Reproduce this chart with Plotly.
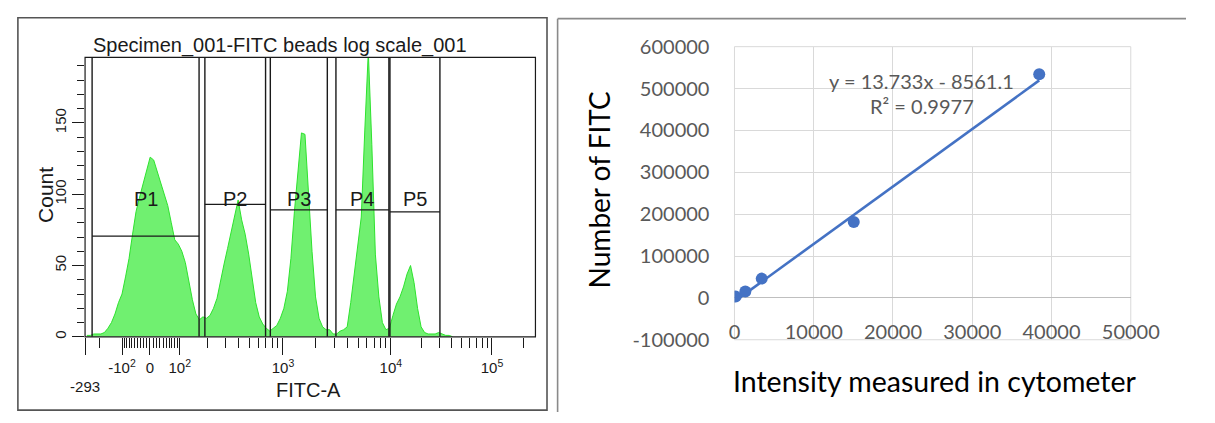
import numpy as np
import plotly.graph_objects as go

W, H = 1215, 423

# ---------------- Left panel: FITC-A histogram (display channel scale 0-256) ----------------
hist_first_channel = 1
hist_channel_step = 2
hist_counts = [
    1, 1, 2, 2, 2, 3, 6, 10, 16, 24, 30, 42, 55, 72, 88, 98, 108, 118, 126, 124,
    116, 108, 100, 92, 80, 68, 65, 60, 52, 38, 26, 16, 12, 14, 13, 15, 20, 27, 40, 51,
    62, 74, 85, 96, 82, 72, 58, 40, 24, 14, 9, 6, 4, 6, 8, 13, 20, 32, 55, 88,
    118, 143, 142, 100, 60, 28, 13, 7, 5, 5, 2, 2, 4, 5, 7, 24, 45, 64, 84, 145,
    200, 135, 58, 28, 10, 5, 6, 15, 23, 28, 35, 44, 50, 38, 20, 7, 3, 2, 2, 2,
    3, 2, 1, 1, 0,
]

gate_names = ["P1", "P2", "P3", "P4", "P5"]
gate_start = [4.0, 68.1, 105.3, 142.6, 173.3]
gate_end = [64.8, 102.6, 137.7, 172.7, 201.7]
gate_height = [70.6, 92.9, 89.0, 89.0, 87.6]
gate_label_count = 96.5

fitc_tick_values = [-293, -100, 0, 100, 1000, 10000, 100000, 262143]
fitc_tick_channels = [0, 21.0, 36.9, 53.8, 112.5, 173.8, 231.3, 256]
fitc_tick_labels = ["<br>-293", "-10<sup>2</sup>", "0", "10<sup>2</sup>",
                    "10<sup>3</sup>", "10<sup>4</sup>", "10<sup>5</sup>", ""]
count_ticks = [0, 50, 100, 150]
count_minor_ticks = [10, 20, 30, 40, 60, 70, 80, 90, 110, 120, 130, 140, 160, 170, 180, 190]
count_max = 196

# ---------------- Right panel: calibration scatter ----------------
intensity = [150, 1370, 3440, 15050, 38450]
n_fitc = [3000, 15100, 46000, 181500, 534000]
fit_slope = 13.733
fit_intercept = -8561.1
r_squared = 0.9977
x2_ticks = [0, 10000, 20000, 30000, 40000, 50000]
y2_ticks = [-100000, 0, 100000, 200000, 300000, 400000, 500000, 600000]


def to_channel(v):
    """Biexponential-like display transform anchored on the labelled ticks."""
    g = np.arcsinh(np.asarray(v, dtype=float) / 100.0)
    ga = np.arcsinh(np.asarray(fitc_tick_values, dtype=float) / 100.0)
    return np.interp(g, ga, fitc_tick_channels)


minor_fitc = [-200] + list(range(-90, 0, 10)) + list(range(10, 100, 10))
for dec in (100, 1000, 10000):
    minor_fitc += [k * dec for k in range(2, 10)]
minor_fitc += [200000]
minor_channels = [float(c) for c in to_channel(minor_fitc)]

hist_channels = [hist_first_channel + i * hist_channel_step for i in range(len(hist_counts))]

fig = go.Figure()

fig.add_trace(go.Scatter(
    x=hist_channels, y=hist_counts, mode="lines", fill="tozeroy",
    line=dict(color="#2ee22e", width=1), fillcolor="#70f070",
    xaxis="x", yaxis="y", hoverinfo="skip", showlegend=False))

# right panel
x_line = [min(intensity), max(intensity)]
y_line = [fit_slope * x + fit_intercept for x in x_line]
fig.add_trace(go.Scatter(
    x=x_line, y=y_line, mode="lines", line=dict(color="#4472C4", width=2.6),
    xaxis="x2", yaxis="y2", hoverinfo="skip", showlegend=False))
fig.add_trace(go.Scatter(
    x=intensity, y=n_fitc, mode="markers", marker=dict(color="#4472C4", size=12),
    xaxis="x2", yaxis="y2", hoverinfo="skip", showlegend=False))

shapes = []
# left plot frame
shapes.append(dict(type="rect", xref="x domain", yref="y domain", x0=0, x1=1, y0=0, y1=1,
                   line=dict(color="#1a1a1a", width=1.2)))
# gates
for s, e, h in zip(gate_start, gate_end, gate_height):
    for xv in (s, e):
        shapes.append(dict(type="line", xref="x", yref="y", x0=xv, x1=xv, y0=0, y1=count_max,
                           line=dict(color="#1a1a1a", width=1.4)))
    shapes.append(dict(type="line", xref="x", yref="y", x0=s, x1=e, y0=h, y1=h,
                       line=dict(color="#1a1a1a", width=1.4)))
# panel borders
shapes.append(dict(type="rect", xref="paper", yref="paper", x0=3 / W, x1=552 / W,
                   y0=1 - 421 / H, y1=1 - 5 / H, line=dict(color="#555555", width=1.6)))
shapes.append(dict(type="line", xref="paper", yref="paper", x0=563 / W, x1=563 / W,
                   y0=0, y1=1 - 6 / H, line=dict(color="#8a8a8a", width=1.6)))
shapes.append(dict(type="line", xref="paper", yref="paper", x0=563 / W, x1=1,
                   y0=1 - 6 / H, y1=1 - 6 / H, line=dict(color="#8a8a8a", width=1.6)))
# right plot area border
shapes.append(dict(type="rect", xref="x2 domain", yref="y2 domain", x0=0, x1=1, y0=0, y1=1,
                   line=dict(color="#D9D9D9", width=1), layer="below"))

left_font = "Liberation Sans, Arial, sans-serif"
narrow_font = "Liberation Sans Narrow, Arial Narrow, Liberation Sans, Arial, sans-serif"
right_font = "Lato, Calibri, sans-serif"


def label(text, x, y, size, family, color, angle=0, xref="paper", yref="paper"):
    if xref == "paper":
        x = x / W
    if yref == "paper":
        y = 1 - y / H
    return dict(text=text, xref=xref, yref=yref, x=x, y=y, xanchor="center", yanchor="middle",
                textangle=angle, showarrow=False, font=dict(family=family, size=size, color=color))


annotations = [
    label("Specimen_001-FITC beads log scale_001", 275, 34, 20, left_font, "#1a1a1a"),
    label("Count", 31, 193, 21, left_font, "#1a1a1a", angle=-90),
    label("FITC-A", 305, 400, 20, left_font, "#1a1a1a"),
    label("Number of FITC", 606, 188, 28, right_font, "#000000", angle=-90),
    label("Intensity measured in cytometer", 954, 390, 28.5, right_font, "#000000"),
    label(f"y = {fit_slope}x - {abs(fit_intercept)}", 23650, 518700, 20, right_font, "#595959",
          xref="x2", yref="y2"),
    label(f"R² = {r_squared}", 23700, 457200, 20, right_font, "#595959", xref="x2", yref="y2"),
]
for name, s, e in zip(gate_names, gate_start, gate_end):
    annotations.append(label(name, (s + e) / 2, gate_label_count, 20, narrow_font, "#1a1a1a",
                             xref="x", yref="y"))

y2_dom = [1 - 346.4 / H, 1 - 35.7 / H]
y2_range = [-100000, 600000]
x2_pos = y2_dom[0] + (0 - y2_range[0]) / (y2_range[1] - y2_range[0]) * (y2_dom[1] - y2_dom[0])

fig.update_layout(
    width=W, height=H, autosize=False,
    margin=dict(l=0, r=0, t=0, b=0),
    paper_bgcolor="white", plot_bgcolor="white",
    showlegend=False,
    xaxis=dict(domain=[72.7 / W, 540 / W], range=[0, 256], showgrid=False, zeroline=False,
               showline=False, anchor="y", tickmode="array",
               tickvals=fitc_tick_channels[:-1], ticktext=fitc_tick_labels[:-1],
               ticks="outside", ticklen=17, tickwidth=1, tickcolor="#1a1a1a",
               minor=dict(tickmode="array", tickvals=minor_channels, ticks="outside",
                          ticklen=10, tickwidth=1, tickcolor="#1a1a1a", showgrid=False),
               tickfont=dict(family=narrow_font, size=15, color="#1a1a1a")),
    yaxis=dict(domain=[1 - 343.3 / H, 1 - 47 / H], range=[0, count_max], showgrid=False,
               zeroline=False, showline=False, anchor="x", tickmode="array",
               tickvals=count_ticks, ticktext=[str(v) for v in count_ticks],
               ticks="outside", ticklen=12, tickwidth=1, tickcolor="#1a1a1a", tickangle=-90,
               minor=dict(tickmode="array", tickvals=count_minor_ticks, ticks="outside",
                          ticklen=7, tickwidth=1, tickcolor="#1a1a1a", showgrid=False),
               tickfont=dict(family=narrow_font, size=15, color="#1a1a1a")),
    xaxis2=dict(domain=[746.5 / W, 1157.7 / W], range=[0, 50000], anchor="free", position=x2_pos,
                tickmode="array", tickvals=x2_ticks, ticktext=[str(v) for v in x2_ticks],
                showgrid=True, gridcolor="#D9D9D9", gridwidth=1, zeroline=False, showline=False,
                ticks="outside", ticklen=16, tickcolor="rgba(0,0,0,0)",
                tickfont=dict(family=right_font, size=20, color="#595959")),
    yaxis2=dict(domain=y2_dom, range=y2_range, anchor="x2",
                tickmode="array", tickvals=y2_ticks, ticktext=[str(v) for v in y2_ticks],
                showgrid=True, gridcolor="#D9D9D9", gridwidth=1,
                zeroline=True, zerolinecolor="#BFBFBF", zerolinewidth=1.4, showline=False,
                ticks="outside", ticklen=20, tickcolor="rgba(0,0,0,0)",
                tickfont=dict(family=right_font, size=20, color="#595959")),
    shapes=shapes,
    annotations=annotations,
)

fig.write_html(
    "out.html",
    config={"displayModeBar": False, "responsive": False},
    post_script="document.body.style.margin='0';document.body.style.padding='0';"
                "document.documentElement.style.overflow='hidden';",
)
